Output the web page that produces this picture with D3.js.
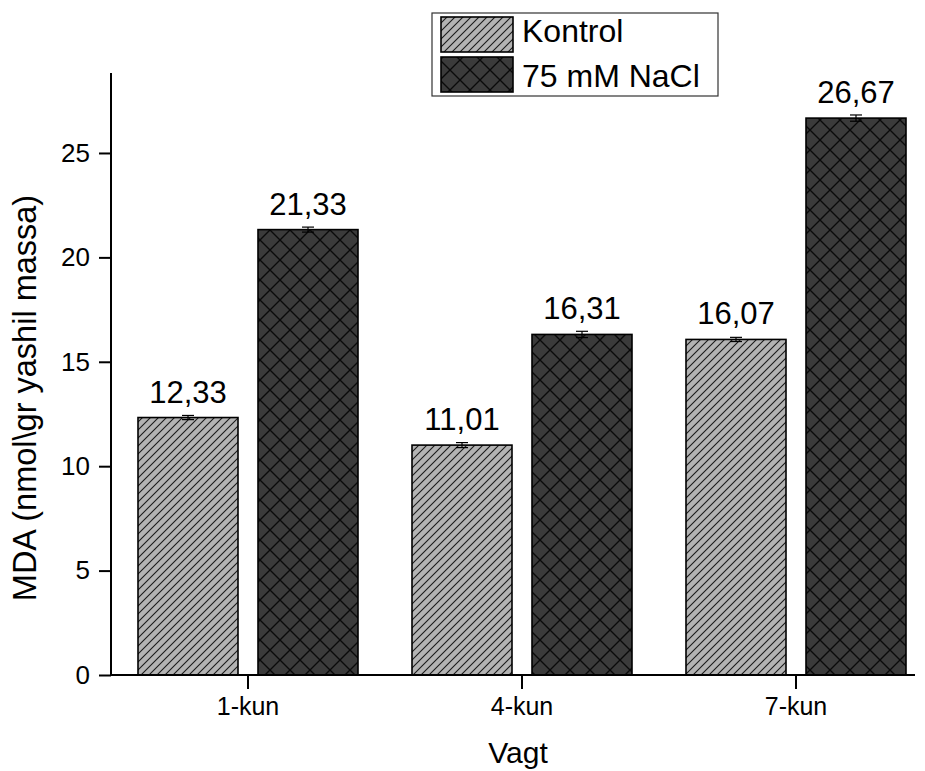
<!DOCTYPE html>
<html>
<head>
<meta charset="utf-8">
<script src="https://cdn.jsdelivr.net/npm/d3@7"></script>
<style>
  html, body { margin: 0; padding: 0; background: #fff; }
  text { font-family: "Liberation Sans", Arial, sans-serif; fill: #000; }
</style>
</head>
<body>
<svg id="chart" width="925" height="771"></svg>
<script>
const categories = ["1-kun", "4-kun", "7-kun"];
const seriesNames = ["Kontrol", "75 mM NaCl"];
const kontrolValues = [12.33, 11.01, 16.07];
const naclValues = [21.33, 16.31, 26.67];
const kontrolErrors = [0.1, 0.12, 0.1];
const naclErrors = [0.12, 0.15, 0.15];
const valueLabels = [["12,33", "11,01", "16,07"], ["21,33", "16,31", "26,67"]];
const yTicks = [0, 5, 10, 15, 20, 25];

const svg = d3.select("#chart");
const defs = svg.append("defs");

// Patterns
const p1 = defs.append("pattern").attr("id", "hatchK")
  .attr("patternUnits", "userSpaceOnUse").attr("width", 8).attr("height", 8);
p1.append("rect").attr("width", 8).attr("height", 8).attr("fill", "#b3b3b3");
p1.append("path").attr("d", "M-2,2 L2,-2 M0,8 L8,0 M6,10 L10,6")
  .attr("stroke", "#1a1a1a").attr("stroke-width", 1.1);

const p2 = defs.append("pattern").attr("id", "hatchN")
  .attr("patternUnits", "userSpaceOnUse").attr("width", 20).attr("height", 20);
p2.append("rect").attr("width", 20).attr("height", 20).attr("fill", "#3b3b3b");
p2.append("path").attr("d", "M0,0 L20,20 M20,0 L0,20")
  .attr("stroke", "#0a0a0a").attr("stroke-width", 1.4);

const fills = ["url(#hatchK)", "url(#hatchN)"];

const y0 = 675, yTop = 73, xLeft = 111, xRight = 915;
const y = d3.scaleLinear().domain([0, 28.83]).range([y0, yTop]);
const x0 = d3.scaleBand().domain(categories).range([111, 933]).paddingInner(0).paddingOuter(0);
const x1 = d3.scaleBand().domain(seriesNames).range([0, x0.bandwidth()])
  .paddingInner(1 / 6).paddingOuter(0.225);

const series = [
  { name: seriesNames[0], values: kontrolValues, errors: kontrolErrors, labels: valueLabels[0] },
  { name: seriesNames[1], values: naclValues, errors: naclErrors, labels: valueLabels[1] }
];

const g = svg.append("g");

series.forEach((s, si) => {
  const data = categories.map((c, i) => ({ c, v: s.values[i], e: s.errors[i], l: s.labels[i] }));
  g.selectAll(".bar" + si).data(data).enter().append("rect")
    .attr("x", d => x0(d.c) + x1(s.name))
    .attr("y", d => y(d.v))
    .attr("width", x1.bandwidth())
    .attr("height", d => y0 - y(d.v))
    .attr("fill", fills[si])
    .attr("stroke", "#000").attr("stroke-width", 1.6);

  // error bars
  data.forEach(d => {
    const cx = x0(d.c) + x1(s.name) + x1.bandwidth() / 2;
    g.append("line").attr("x1", cx).attr("x2", cx)
      .attr("y1", y(d.v + d.e)).attr("y2", y(d.v - d.e))
      .attr("stroke", "#000").attr("stroke-width", 1.2);
    [d.v + d.e, d.v - d.e].forEach(val => {
      g.append("line").attr("x1", cx - 6).attr("x2", cx + 6)
        .attr("y1", y(val)).attr("y2", y(val))
        .attr("stroke", "#000").attr("stroke-width", 1.2);
    });
    g.append("text").attr("x", cx).attr("y", y(d.v) - 15)
      .attr("text-anchor", "middle").attr("font-size", 31).text(d.l);
  });
});

// Y axis
const yAxis = d3.axisLeft(y).tickValues(yTicks).tickSize(12).tickPadding(9)
  .tickFormat(d3.format("d"));
const ya = svg.append("g").attr("transform", `translate(${xLeft},0)`).call(yAxis);
ya.select(".domain").remove();
ya.selectAll(".tick line").attr("stroke", "#000").attr("stroke-width", 2);
ya.selectAll(".tick text").attr("font-size", 26).attr("font-family", "Liberation Sans, Arial, sans-serif").attr("fill", "#000");
svg.append("line").attr("x1", xLeft).attr("x2", xLeft).attr("y1", yTop).attr("y2", y0 + 1)
  .attr("stroke", "#000").attr("stroke-width", 2);

// X axis
const xAxis = d3.axisBottom(x0).tickSize(14).tickPadding(8);
const xa = svg.append("g").attr("transform", `translate(0,${y0})`).call(xAxis);
xa.select(".domain").remove();
xa.selectAll(".tick line").attr("stroke", "#000").attr("stroke-width", 2);
xa.selectAll(".tick text").attr("font-size", 25).attr("font-family", "Liberation Sans, Arial, sans-serif").attr("fill", "#000");
svg.append("line").attr("x1", xLeft - 1).attr("x2", xRight).attr("y1", y0).attr("y2", y0)
  .attr("stroke", "#000").attr("stroke-width", 2);

// Axis titles
svg.append("text").attr("transform", "translate(36,398) rotate(-90)")
  .attr("text-anchor", "middle").attr("font-size", 32.5).text("MDA (nmol\\gr yashil massa)");
svg.append("text").attr("x", 518).attr("y", 763)
  .attr("text-anchor", "middle").attr("font-size", 30).text("Vagt");

// Legend
const lg = svg.append("g");
lg.append("rect").attr("x", 432).attr("y", 13).attr("width", 286).attr("height", 83)
  .attr("fill", "#fff").attr("stroke", "#333").attr("stroke-width", 1.2);
seriesNames.forEach((n, i) => {
  lg.append("rect").attr("x", 441).attr("y", 17 + i * 40).attr("width", 72).attr("height", 35)
    .attr("fill", fills[i]).attr("stroke", "#000").attr("stroke-width", 1.6);
  lg.append("text").attr("x", 522).attr("y", 42 + i * 45).attr("font-size", 32).text(n);
});
</script>
</body>
</html>
